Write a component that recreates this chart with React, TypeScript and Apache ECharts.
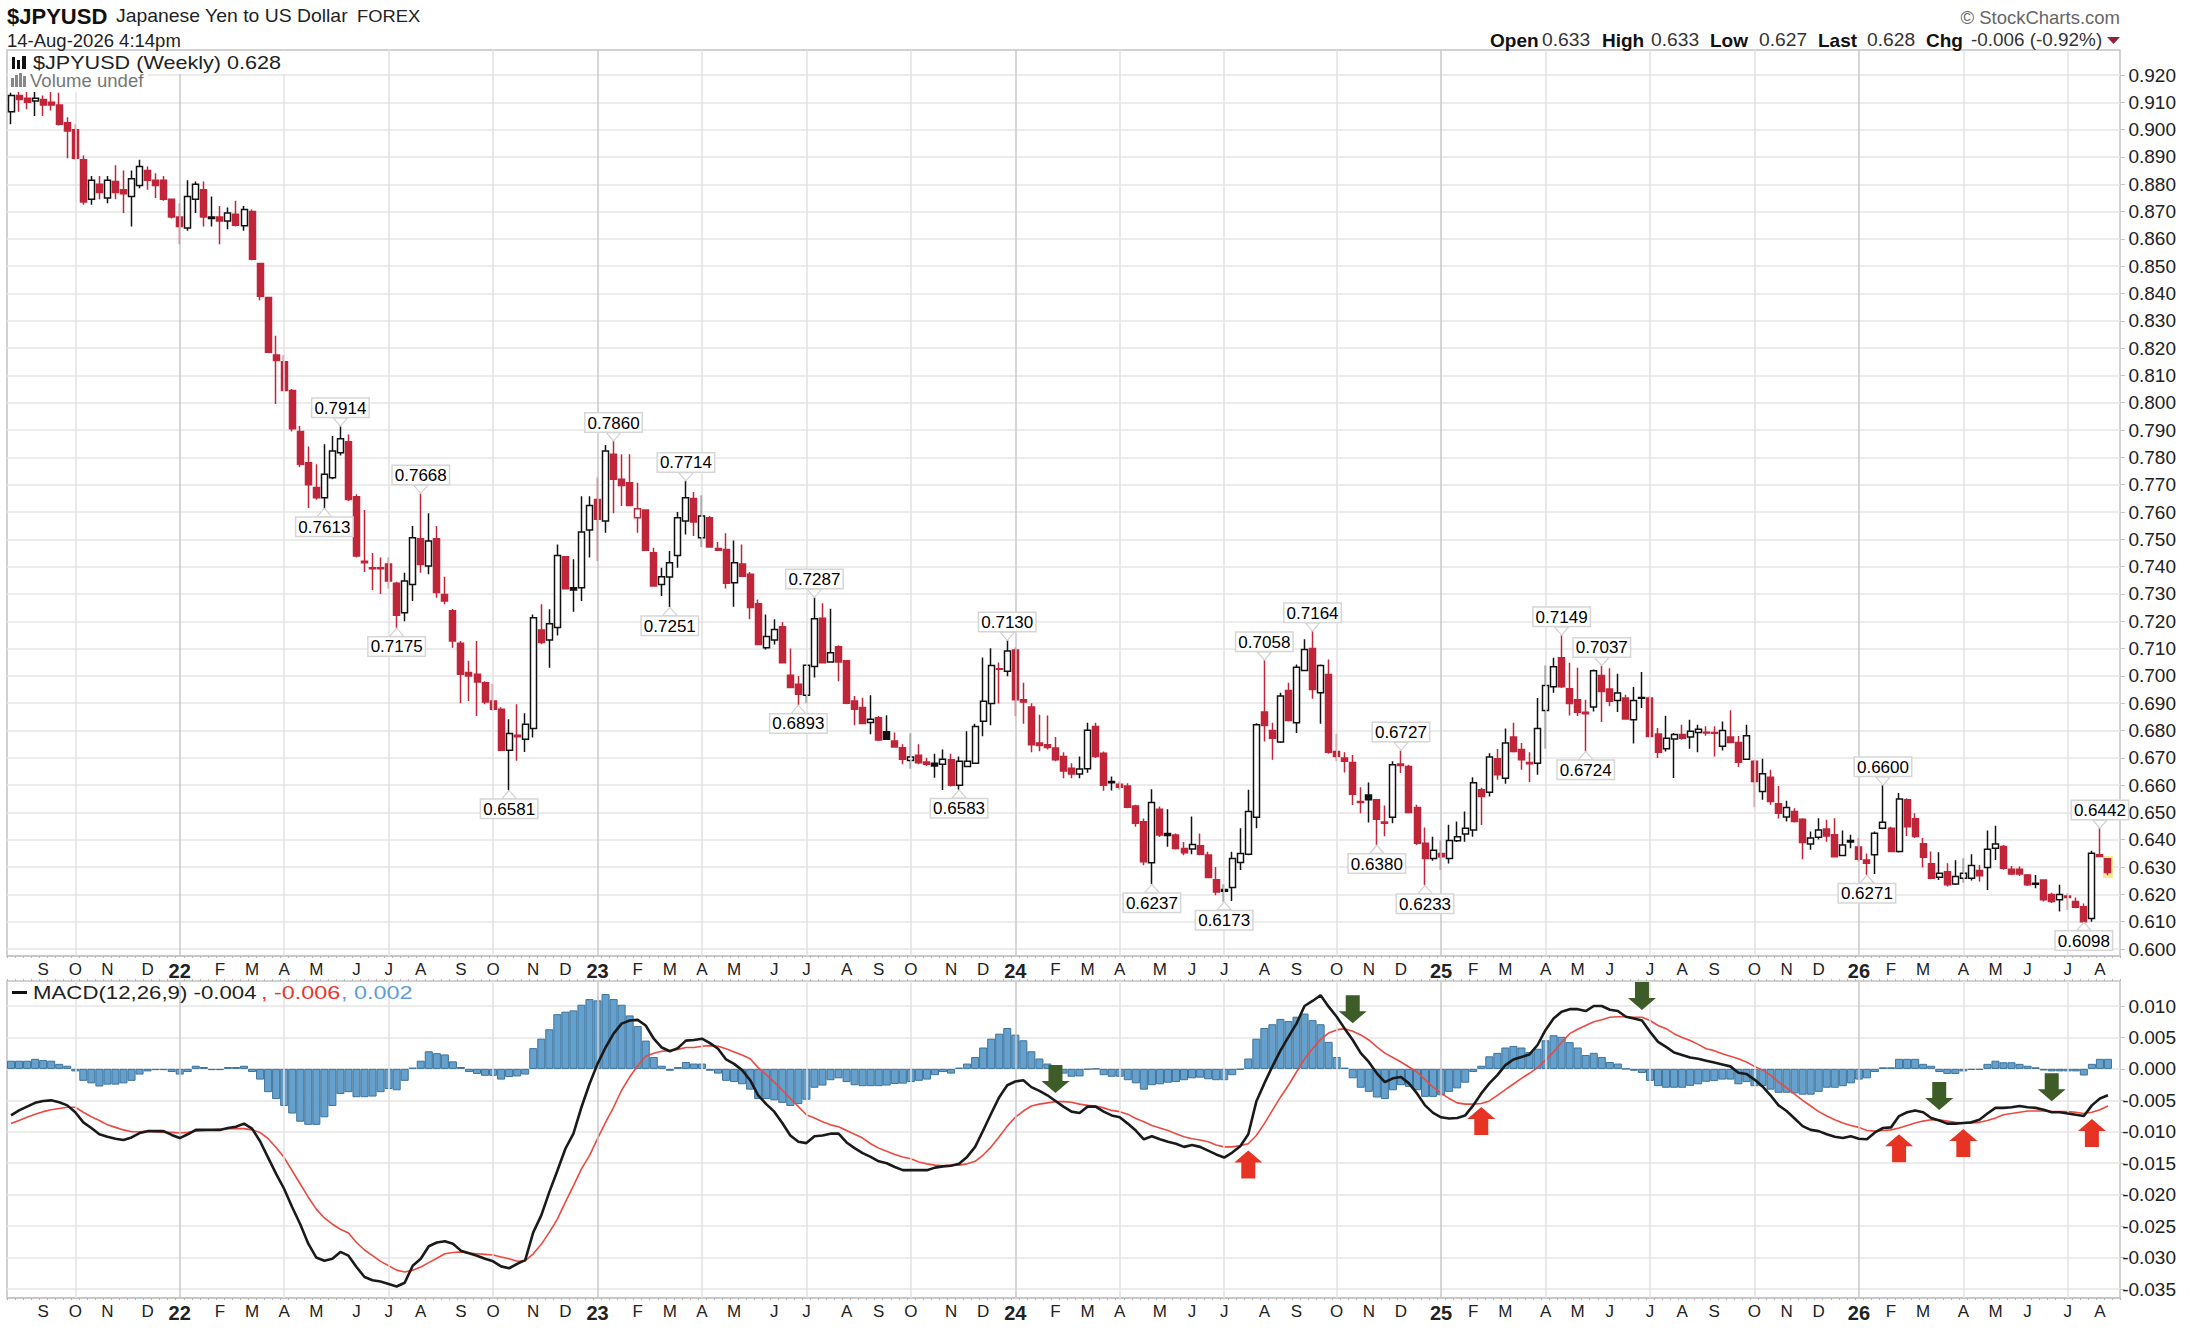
import React, { useEffect, useRef } from "react";
import * as echarts from "echarts";

// Weekly bars: [open, close, low, high]
const weeklyBars: number[][] = [
[.9065,.9125,.902,.9135],[.9125,.911,.9065,.9145],[.9115,.910,.9075,.915],[.9105,.9115,.905,.914],[.911,.909,.905,.9125],
[.910,.909,.907,.914],[.909,.902,.9015,.9135],[.9025,.8995,.8895,.9045],[.900,.8895,.889,.902],[.889,.8735,.8725,.8905],
[.8745,.8815,.8725,.883],[.880,.877,.8745,.883],[.875,.8815,.873,.883],[.881,.877,.8745,.887],[.878,.8765,.8695,.885],
[.8755,.882,.8645,.885],[.8795,.8865,.8785,.889],[.885,.8815,.878,.8865],[.8815,.8795,.875,.884],[.8815,.8745,.874,.883],
[.8745,.868,.8675,.8745],[.868,.8645,.858,.873],[.864,.8755,.863,.8815],[.8745,.880,.8695,.881],[.878,.868,.8645,.881],
[.868,.8675,.8645,.8755],[.868,.8665,.858,.872],[.8665,.8695,.8635,.8715],[.869,.865,.8645,.874],[.8648,.8708,.863,.872],
[.870,.8525,.8522,.8708],[.851,.839,.8375,.851],[.8385,.8185,.8185,.8385],[.8175,.8155,.7995,.8245],[.815,.8045,.8045,.8175],
[.8045,.7905,.7895,.805],[.7895,.7775,.7765,.7915],[.778,.770,.7615,.784],[.769,.7652,.7645,.7775],[.7652,.7738,.7613,.7848],
[.7725,.7823,.772,.7878],[.7817,.7868,.7807,.7914],[.7857,.7646,.764,.7884],[.7656,.7439,.7433,.7665],[.742,.7414,.738,.7607],
[.7396,.7392,.7314,.745],[.7396,.7392,.730,.7433],[.741,.7347,.732,.7433],[.7339,.7222,.7175,.7345],[.7231,.7347,.72,.7378],
[.7335,.7506,.7274,.7549],[.7502,.7408,.7378,.7668],[.7402,.7494,.7372,.7595],[.7502,.7305,.7286,.7549],[.7298,.7274,.7262,.7363],
[.7238,.7128,.7103,.7245],[.7119,.7006,.69,.7128],[.7012,.70,.6908,.7055],[.7006,.6978,.6853,.7128],[.6975,.6904,.6896,.698],
[.6908,.6878,.6872,.697],[.6878,.6728,.6725,.6885],[.6728,.6789,.6581,.6841],[.6783,.6777,.6689,.6896],[.6768,.6823,.6721,.6863],
[.6807,.7213,.6774,.7225],[.7168,.7122,.7116,.7262],[.7131,.7191,.703,.7244],[.7177,.7441,.7148,.7481],[.7436,.7319,.7317,.7438],
[.7323,.7314,.7235,.7427],[.7323,.7527,.7274,.7658],[.7534,.7624,.7433,.7658],[.7646,.7573,.7421,.7726],[.7567,.7823,.7524,.7845],
[.7811,.772,.7595,.786],[.772,.7697,.7622,.7811],[.7707,.7624,.7622,.7811],[.7579,.7612,.7524,.7707],[.7607,.746,.7458,.7609],
[.7451,.7329,.7327,.7469],[.7335,.7363,.7292,.7396],[.7362,.7414,.7251,.7457],[.7441,.7579,.7396,.76],[.7567,.7652,.7518,.7714],
[.7649,.7563,.7512,.7673],[.7506,.7585,.7472,.7661],[.7579,.7472,.747,.7585],[.7466,.746,.7458,.749],[.7463,.7339,.732,.7522],
[.7341,.7414,.7253,.7496],[.741,.7365,.7363,.7481],[.7372,.725,.7207,.738],[.7264,.7115,.7113,.728],[.7103,.7144,.7097,.7225],
[.7131,.717,.7115,.7207],[.718,.7048,.7046,.7197],[.7002,.6957,.6955,.71],[.6969,.6933,.6893,.700],[.6929,.7039,.69,.7043],
[.7034,.7209,.6994,.7287],[.7211,.7048,.7046,.7266],[.7051,.7085,.7049,.7246],[.7107,.7051,.698,.7112],[.7055,.69,.6896,.7058],
[.6908,.6878,.6819,.6926],[.6884,.6826,.6823,.692],[.6829,.6841,.6786,.6929],[.6847,.6765,.6762,.6853],[.6795,.6768,.6765,.6856],
[.6762,.674,.6738,.6793],[.6737,.6695,.6676,.675],[.669,.6703,.666,.679],[.6709,.6682,.6676,.675],[.6685,.6676,.667,.670],
[.668,.667,.6627,.6715],[.6676,.6695,.6582,.673],[.6693,.66,.6595,.6715],[.66,.6687,.6583,.6705],[.6668,.6687,.6666,.6797],
[.668,.6815,.6678,.6825],[.6834,.6907,.6779,.7067],[.6899,.7038,.6819,.7101],[.7026,.7024,.6899,.7049],[.7017,.7091,.6999,.713],
[.7095,.6913,.6852,.7104],[.6913,.6904,.6825,.6975],[.6886,.6748,.672,.690],[.6754,.6745,.6724,.6858],[.6748,.6738,.673,.6855],
[.6736,.6693,.6687,.6776],[.6705,.6652,.6625,.672],[.6662,.6641,.6625,.668],[.6641,.6659,.6625,.6705],[.666,.6801,.6645,.6828],
[.6815,.6705,.6699,.6828],[.6717,.66,.6579,.6723],[.6613,.6609,.658,.6632],[.6603,.6592,.6582,.6613],[.6597,.6519,.6515,.6607],
[.6524,.646,.6448,.6528],[.6466,.6319,.6307,.6478],[.6316,.6536,.6237,.6585],[.6512,.6417,.641,.6522],[.6423,.6416,.6374,.6512],
[.6417,.6368,.6364,.6423],[.6368,.6352,.6343,.6392],[.6366,.6383,.6347,.6485],[.6378,.6347,.6343,.6423],[.6344,.6262,.626,.6356],
[.6254,.6209,.6197,.63],[.6218,.6211,.6173,.6237],[.6225,.6331,.6176,.6356],[.6317,.635,.6289,.6442],[.6347,.6503,.6343,.6583],
[.6482,.6821,.6442,.6827],[.6868,.6818,.676,.7058],[.68,.6772,.6693,.6828],[.6758,.6926,.6754,.6938],[.6946,.6837,.6833,.6975],
[.6828,.7032,.6791,.7042],[.702,.7097,.7017,.7134],[.71,.695,.6916,.7164],[.6938,.7038,.6825,.7042],[.7005,.672,.6715,.706],
[.6723,.6705,.6687,.6788],[.6699,.6687,.6646,.672],[.6683,.6567,.6527,.671],[.654,.6536,.6497,.6592],[.6564,.6546,.6463,.661],
[.6546,.6475,.638,.6549],[.6465,.646,.6413,.6525],[.6482,.6675,.646,.6687],[.6677,.6672,.6644,.6727],[.6668,.65,.6496,.6675],
[.6518,.6387,.6381,.6528],[.6387,.6331,.6233,.6445],[.6331,.6362,.6323,.6411],[.635,.6338,.6289,.6397],[.6331,.6397,.6313,.6455],
[.6396,.6411,.6392,.6467],[.6421,.6442,.6393,.6503],[.6436,.6609,.6411,.6629],[.6583,.6558,.6454,.659],[.6574,.6703,.6558,.6717],
[.6697,.6638,.662,.6732],[.6625,.6754,.6605,.6807],[.6776,.6723,.6719,.6828],[.673,.6693,.6656,.6754],[.6683,.6678,.6611,.672],
[.668,.6807,.6638,.6919],[.6873,.6965,.6733,.7038],[.696,.7033,.6938,.7066],[.7066,.696,.6956,.7149],[.6953,.6899,.6855,.7048],
[.6913,.6867,.6853,.703],[.6867,.6861,.6724,.6913],[.6886,.7019,.687,.7023],[.7001,.6943,.6831,.7037],[.6952,.6907,.6889,.7028],
[.691,.6937,.6868,.7008],[.6919,.6842,.6839,.6931],[.6839,.691,.6752,.6959],[.6921,.6918,.6882,.7014],[.6919,.6778,.6776,.6925],
[.6787,.672,.6699,.6809],[.6733,.6772,.6723,.6854],[.6769,.6785,.6626,.6791],[.6785,.6772,.6766,.6821],[.6776,.6797,.6733,.6839],
[.6793,.6805,.672,.6821],[.6794,.6791,.6781,.6816],[.6793,.679,.6705,.6816],[.6742,.68,.6727,.6833],[.6776,.6756,.6754,.6874],
[.6756,.6684,.6666,.678],[.6695,.6781,.6692,.6821],[.6687,.6613,.6519,.6693],[.6577,.6642,.6546,.6697],[.6629,.654,.6528,.6656],
[.6532,.6497,.6478,.6597],[.6483,.6518,.6467,.6543],[.6503,.6467,.6463,.6515],[.6475,.639,.6329,.6479],[.6384,.6406,.6363,.643],
[.6409,.6436,.6401,.6479],[.6439,.6414,.6393,.6473],[.6418,.6338,.6336,.6479],[.6342,.6381,.634,.6434],[.6397,.6392,.6369,.6418],
[.6373,.6329,.632,.6406],[.6326,.6314,.6271,.635],[.6345,.6424,.6275,.643],[.6442,.6464,.6438,.66],[.6442,.6357,.6355,.6448],
[.6357,.6549,.6353,.6571],[.6546,.6448,.6414,.6552],[.6477,.6412,.6406,.6497],[.6385,.6336,.6298,.6406],[.6312,.6259,.6255,.6357],
[.6263,.6277,.6253,.6354],[.6283,.6235,.6229,.6314],[.6238,.6265,.6234,.6325],[.6259,.6277,.6243,.6332],[.6259,.6306,.6251,.6347],
[.6287,.6268,.6247,.6308],[.6298,.6365,.6216,.6434],[.6369,.6384,.6326,.6451],[.6375,.6296,.629,.6381],[.6292,.6275,.6271,.6304],
[.6292,.6275,.6267,.6302],[.6271,.6235,.6231,.6275],[.6241,.6237,.6222,.6271],[.6253,.618,.6174,.6255],[.62,.6174,.6168,.6206],
[.618,.62,.6137,.6235],[.6194,.6189,.6143,.6204],[.6174,.6153,.6149,.6189],[.6155,.61,.6098,.6167],[.6112,.6351,.61,.636],
[.6345,.6339,.6336,.6442],[.633,.628,.627,.633],
];
const solidBlackWeeks = [25, 70, 109, 115, 137, 144, 151, 169, 203, 229, 252];
const hollowRedWeeks = [78];
const currentBarMarker: number[][] = [[261, 0.63]];

const highCallouts: number[][] = [[41,.7914],[51,.7668],[75,.7860],[84,.7714],[100,.7287],[124,.7130],[156,.7058],[162,.7164],[173,.6727],[193,.7149],[198,.7037],[233,.6600],[260,.6442]];
const lowCallouts: number[][] = [[39,.7613],[48,.7175],[62,.6581],[82,.7251],[98,.6893],[118,.6583],[142,.6237],[151,.6173],[170,.6380],[176,.6233],[196,.6724],[231,.6271],[258,.6098]];

// MACD panel values, in thousandths
const macdMilli = [
-7.4,-6.6,-6.0,-5.4,-5.1,-5.0,-5.3,-5.8,-6.9,-8.5,
-9.4,-10.4,-10.8,-11.1,-11.3,-10.9,-10.2,-9.9,-9.9,-9.9,
-10.5,-11.0,-10.4,-9.7,-9.7,-9.7,-9.7,-9.4,-9.2,-8.7,
-9.5,-11.5,-14.1,-16.7,-19.1,-22.0,-24.7,-27.8,-30.0,-30.5,
-30.2,-29.1,-29.7,-31.5,-33.1,-33.6,-33.8,-34.2,-34.6,-34.0,
-31.3,-30.2,-28.2,-27.6,-27.4,-27.8,-28.9,-29.3,-29.7,-30.2,
-30.6,-31.4,-31.7,-31.0,-30.4,-26.0,-23.3,-19.6,-16.2,-12.7,
-10.3,-6.1,-2.4,0.8,3.4,5.6,7.2,7.7,7.8,6.9,
4.8,3.4,2.8,3.3,4.5,4.6,4.8,4.1,3.2,1.5,
.8,-.2,-1.8,-4.2,-5.6,-6.8,-8.6,-10.6,-11.6,-11.8,
-10.7,-10.6,-10.3,-10.3,-11.7,-12.6,-13.4,-14,-14.7,-15,
-15.6,-16.1,-16.1,-16.1,-16.1,-15.7,-15.5,-15.4,-15.1,-14,
-12.4,-9.8,-7.1,-4.5,-2.6,-2,-1.8,-2.9,-3.5,-4.2,
-5.1,-6,-6.8,-7,-6,-6,-6.8,-7.4,-7.7,-8.7,
-9.8,-11.2,-10.7,-11.2,-11.6,-11.9,-12.4,-12.1,-12.4,-13,
-13.6,-14.1,-13.3,-12.3,-10.4,-5.2,-2.3,.4,2.9,5.1,
7.2,10,10.8,11.7,9.9,8.3,6.4,4.6,2.5,1.1,
-.7,-2.1,-1.5,-1.3,-2.3,-3.9,-5.8,-7,-7.7,-7.9,
-7.8,-7.4,-5.8,-3.9,-2.3,-1,.6,1.5,1.9,2.3,
3.8,6.2,8,9.1,9.5,9.5,9.2,10,10,9.4,
9.2,8.3,8,7.7,5.9,4.3,3.5,2.6,2.2,1.8,
1.6,1.3,1,.7,.4,-.6,-.8,-1.7,-2.8,-4.2,
-5.8,-6.7,-7.9,-9.1,-9.7,-9.9,-10.4,-10.8,-11,-10.7,
-11.1,-11.2,-10.1,-9.4,-9.3,-7.5,-6.9,-6.6,-6.9,-7.8,
-8.2,-8.7,-8.7,-8.6,-8.5,-8.1,-7.1,-6.2,-6.2,-6.1,
-5.9,-6.1,-6.2,-6.5,-6.9,-6.9,-7.1,-7.3,-7.5,-5.8,
-4.7,-4.2,
];
const signalMilli = [
-8.7,-8.2,-7.7,-7.2,-6.8,-6.5,-6.3,-6.1,-6.1,-6.9,
-7.6,-8.2,-8.9,-9.3,-9.7,-10,-10,-9.9,-10,-10.1,
-10.1,-10.2,-10.1,-9.9,-9.8,-9.7,-9.6,-9.5,-9.5,-9.5,
-9.7,-10.1,-11.1,-12.5,-14.1,-16.2,-18.3,-20.4,-22.3,-23.7,
-24.7,-25.5,-26.1,-27.6,-28.8,-29.7,-30.6,-31.3,-32,-32.3,
-32,-31.5,-30.8,-30.1,-29.4,-29.2,-29.1,-29.3,-29.4,-29.5,
-29.6,-29.9,-30.2,-30.6,-30.5,-29.4,-27.9,-26,-23.9,-21.2,
-18.6,-15.9,-13.8,-11.1,-8.5,-6.1,-3.4,-1.3,.5,2,
2.5,2.8,2.9,3.1,3.4,3.4,3.6,3.7,3.6,3.2,
2.7,2.2,1.6,.2,-.9,-2.1,-3.4,-4.7,-6,-7.3,
-7.8,-8.4,-8.9,-9.2,-9.8,-10.4,-11,-11.9,-12.6,-13.1,
-13.6,-14,-14.3,-14.8,-15.1,-15.3,-15.4,-15.3,-15.3,-15.1,
-14.7,-13.7,-12.4,-10.8,-9.1,-7.7,-6.7,-5.9,-5.6,-5.4,
-5.2,-5.2,-5.3,-5.6,-5.8,-5.9,-6.2,-6.6,-6.8,-7.2,
-7.9,-8.4,-9,-9.4,-9.8,-10.3,-10.8,-11.1,-11.3,-11.6,
-12.1,-12.4,-12.4,-12.2,-11.9,-10.6,-8.7,-6.6,-4.5,-2.6,
-.5,1.6,3.2,4.7,5.7,6.2,6.4,6,5.4,4.6,
3.5,2.5,1.8,1.1,.3,-.5,-1.7,-2.9,-3.9,-4.7,
-5.4,-5.6,-5.6,-5.5,-5.1,-4.2,-3.3,-2.4,-1.5,-.7,
.2,1.4,2.7,4.2,5.6,6.3,6.9,7.5,7.8,8.2,
8.3,8.3,8.2,8.2,7.7,6.9,6.4,5.6,5,4.5,
3.9,3.2,2.9,2.4,2,1.6,1.1,.4,-.2,-1,
-2.1,-3,-4,-5,-5.9,-6.8,-7.5,-8.1,-8.6,-9,
-9.3,-9.8,-9.9,-9.8,-9.7,-9.4,-9,-8.6,-8.3,-8.1,
-8.1,-8.3,-8.5,-8.6,-8.6,-8.5,-8.2,-7.8,-7.3,-7.1,
-6.9,-6.7,-6.7,-6.7,-6.8,-6.8,-6.8,-6.9,-7.1,-6.9,
-6.5,-5.9,
];
const histogramMilli = [
1.3,1.3,1.3,1.6,1.4,1.3,.8,.5,-.4,-1.9,
-2.3,-2.8,-2.5,-2.5,-2.3,-1.9,-.9,-.4,-.2,-.2,
-.5,-.9,-.5,.5,.3,-.2,-.2,.3,.3,.5,
-.5,-1.7,-3.7,-4.8,-5.9,-7.1,-8.4,-8.9,-8.9,-7.7,
-5.9,-4,-3.7,-4.5,-4.5,-4.4,-3.7,-3.2,-3.4,-1.9,
.2,1.3,2.8,2.5,2.3,1.2,.3,-.5,-.8,-1.1,
-1.1,-1.7,-1.3,-1.2,-.9,3.3,4.8,6.3,8.7,9.1,
9.3,10.2,11.1,10.9,11.9,11.1,10.2,8.5,6.8,4.5,
1.9,.5,-.3,.3,1.1,.85,.85,-.3,-.75,-1.9,
-2.1,-2.45,-3.3,-4.8,-4.8,-5,-5.4,-5.9,-5.6,-4.9,
-3,-2.65,-1.8,-1.5,-2.1,-2.6,-2.75,-2.75,-2.75,-2.65,
-2.4,-2.35,-2.1,-1.9,-1.7,-1,-.5,-.75,.2,.85,
1.9,3.4,4.8,5.6,6.5,5.45,4.55,2.8,1.65,.85,
.5,-.75,-1.25,-1.2,-.1,0,-1,-1.25,-1.25,-1.8,
-2.3,-3.3,-2.6,-2.45,-2.2,-2.1,-1.8,-1.5,-1.4,-1.65,
-1.8,-1.8,-1,-.1,1.65,4.8,6.5,7.1,7.95,7.6,
8.3,8.8,7.75,7.1,4.3,1.9,.2,-1.5,-3,-3.65,
-4.55,-4.8,-3.4,-2.6,-2.85,-3.4,-4.45,-4.45,-4.2,-3.65,
-3.1,-2.2,-.5,.5,2,2.55,3.4,3.65,3.4,2.7,
3.2,4.55,5.35,5.1,4.25,3.4,2.2,2.55,1.9,1.1,
.85,0,-.3,-.65,-1.9,-2.75,-3,-3,-3,-2.7,
-2.45,-2.05,-1.95,-1.7,-1.7,-2.45,-2.1,-2.75,-2.75,-3.3,
-3.8,-3.8,-3.9,-4.1,-4.1,-3.65,-3,-3,-2.75,-2.3,
-1.7,-1.5,-.5,.25,.25,1.6,1.6,1.6,.8,.5,
-.5,-.8,-.8,-.4,-.15,-.15,.8,1.3,1.05,1.05,
.8,.5,.25,-.25,-.4,-.4,-.4,-.4,-1.05,.8,
1.6,1.6,
];

const sellArrows: number[][] = [[130,-.0016],[167,.0095],[203,.0116],[240,-.0043],[254,-.0029]];
const buyArrows: number[][] = [[154,-.0152],[183,-.0083],[235,-.0126],[243,-.0118],[259,-.0102]];

const priceTicks = { min: 0.6, max: 0.92, step: 0.01 };
const macdTicks = { min: -0.035, max: 0.01, step: 0.005 };
const monthLetters = ["", "F", "M", "A", "M", "J", "J", "A", "S", "O", "N", "D"];
const WEEK_MS = 7 * 86400000;
const firstWeek = Date.UTC(2021, 7, 9);
const extraSlots = 1;

const weeks = Array.from({ length: weeklyBars.length + extraSlots }, (_, i) => new Date(firstWeek + i * WEEK_MS));
const categories = weeks.map((d) => d.toISOString().slice(0, 10));
const isMonthStart = (i: number) => i < weeklyBars.length && weeks[i].getUTCDate() <= 7;
const quarterWeeks = weeks.map((_, i) => i).filter((i) => isMonthStart(i) && weeks[i].getUTCMonth() % 3 === 0);
const labelFor = (i: number) => {
  const m = weeks[i].getUTCMonth();
  return m === 0 ? `{yr|${String(weeks[i].getUTCFullYear()).slice(2)}}` : `{mo|${monthLetters[m]}}`;
};

const FONT = "'Liberation Sans', Arial, sans-serif";
const RED = "#c02539";
const ARROW = "path://M14 0L28 12L21 12L21 28L7 28L7 12L0 12Z";

const frameXAxis = (gridIndex: number) => ({
  type: "category",
  gridIndex,
  data: categories,
  position: "bottom",
  axisLine: { lineStyle: { color: "#c4c4c4", width: 1.5 } },
  axisTick: { show: true, interval: 0, length: 2, lineStyle: { color: "#b5b5b5" } },
  axisLabel: {
    show: true,
    interval: (i: number) => isMonthStart(i),
    margin: 5,
    formatter: (_: string, i: number) => labelFor(i),
    rich: {
      mo: { fontFamily: FONT, fontSize: 17, color: "#222" },
      yr: { fontFamily: FONT, fontSize: 20, fontWeight: "bold", color: "#222" },
    },
  },
  splitLine: { show: false },
});
const hiddenXAxis = (gridIndex: number) => ({ type: "category", gridIndex, data: categories, show: false });
const hiddenYAxis = (gridIndex: number) => ({ type: "value", gridIndex, min: 0, max: 1, show: false, splitLine: { show: false } });
const valueAxis = (gridIndex: number, t: { min: number; max: number; step: number }, digits: number) => ({
  type: "value",
  gridIndex,
  position: "right",
  min: t.min,
  max: t.max,
  interval: t.step,
  axisLine: { show: false },
  axisTick: { show: true, length: 5, lineStyle: { color: "#c4c4c4" } },
  axisLabel: {
    show: true,
    align: "right",
    margin: 56,
    fontFamily: FONT,
    fontSize: 19,
    color: "#222",
    padding: [0, 0, 4, 0],
    formatter: (v: number) => v.toFixed(digits),
  },
  splitLine: { show: true, lineStyle: { color: "#e6e6e6", width: 1.5 } },
});
const gridLines = (xAxisIndex: number, yAxisIndex: number) => ({
  type: "line",
  xAxisIndex,
  yAxisIndex,
  data: [],
  z: 1,
  silent: true,
  markLine: {
    silent: true,
    symbol: ["none", "none"],
    label: { show: false },
    data: quarterWeeks.map((i) => ({
      xAxis: categories[i],
      lineStyle: { type: "solid", width: 1.5, color: weeks[i].getUTCMonth() === 0 ? "#c8c8c8" : "#e2e2e2" },
    })),
  },
});
const calloutSeries = (data: number[][], above: boolean) => ({
  type: "scatter",
  xAxisIndex: 1,
  yAxisIndex: 1,
  z: 6,
  symbol: "triangle",
  symbolRotate: above ? 180 : 0,
  symbolSize: [14, 8],
  symbolOffset: [0, above ? -4 : 4],
  itemStyle: { color: "#fff", borderColor: "#cfcfcf", borderWidth: 1, opacity: 1 },
  label: {
    show: true,
    position: above ? "top" : "bottom",
    distance: 1,
    fontFamily: FONT,
    fontSize: 17,
    color: "#000",
    backgroundColor: "#fff",
    borderColor: "#d6d6d6",
    borderWidth: 1.5,
    padding: [1, 2, 0, 2],
    formatter: (p: any) => p.value[1].toFixed(4),
  },
  data,
});
const txt = (x: number, y: number, text: string, fontSize: number, fill: string, extra: any = {}, scaleX = 1) => ({
  type: "text",
  x,
  y,
  scaleX,
  z: 20,
  silent: true,
  style: { text, fontFamily: FONT, fontSize, fill, textVerticalAlign: "middle", ...extra },
});
const box = (x: number, y: number, width: number, height: number, fill: string) => ({
  type: "rect",
  z: 19,
  silent: true,
  shape: { x, y, width, height },
  style: { fill },
});

export default function App() {
  const ref = useRef<HTMLDivElement>(null);
  useEffect(() => {
    const chart = echarts.init(ref.current!, undefined, { renderer: "svg" });
    const candleData = weeklyBars.map((b, i) => {
      if (solidBlackWeeks.includes(i)) return { value: b, itemStyle: { color0: "#111", borderColor0: "#111" } };
      if (hollowRedWeeks.includes(i)) return { value: b, itemStyle: { color: "#fff", borderColor: RED } };
      return b;
    });
    chart.setOption({
      animation: false,
      backgroundColor: "#fff",
      grid: [
        { left: 7, right: 70, top: 50, height: 906, show: true, borderColor: "#c4c4c4", borderWidth: 1.5, backgroundColor: "#fff" },
        { left: 7, right: 70, top: 75, height: 874 },
        { left: 7, right: 70, top: 981, height: 317, show: true, borderColor: "#c4c4c4", borderWidth: 1.5, backgroundColor: "#fff" },
        { left: 7, right: 70, top: 1006, height: 283 },
      ],
      xAxis: [
        frameXAxis(0),
        hiddenXAxis(1),
        frameXAxis(2),
        hiddenXAxis(3),
        {
          type: "category",
          gridIndex: 2,
          data: categories,
          position: "top",
          axisLine: { show: false },
          axisLabel: { show: false },
          axisTick: { show: true, interval: 0, length: 2, lineStyle: { color: "#b5b5b5" } },
        },
      ],
      yAxis: [
        hiddenYAxis(0),
        valueAxis(1, priceTicks, 3),
        hiddenYAxis(2),
        valueAxis(3, macdTicks, 3),
      ],
      series: [
        gridLines(0, 0),
        gridLines(2, 2),
        {
          type: "scatter",
          xAxisIndex: 1,
          yAxisIndex: 1,
          z: 3,
          symbol: "rect",
          symbolSize: [10, 22],
          itemStyle: { color: "#f6ea8f", opacity: 1 },
          data: currentBarMarker,
        },
        {
          type: "candlestick",
          xAxisIndex: 1,
          yAxisIndex: 1,
          z: 4,
          barWidth: 6.5,
          itemStyle: { color: "#fff", color0: RED, borderColor: "#111", borderColor0: RED, borderWidth: 1.5 },
          data: candleData,
        },
        calloutSeries(highCallouts, true),
        calloutSeries(lowCallouts, false),
        {
          type: "bar",
          xAxisIndex: 3,
          yAxisIndex: 3,
          z: 3,
          clip: false,
          barWidth: "100%",
          itemStyle: { color: "#66a1cd", borderColor: "#3e7299", borderWidth: 1 },
          data: histogramMilli.map((v) => v / 1000),
        },
        {
          type: "line",
          xAxisIndex: 3,
          yAxisIndex: 3,
          z: 4,
          clip: false,
          showSymbol: false,
          lineStyle: { color: "#ea4a40", width: 1.6 },
          data: signalMilli.map((v) => v / 1000),
        },
        {
          type: "line",
          xAxisIndex: 3,
          yAxisIndex: 3,
          z: 5,
          clip: false,
          showSymbol: false,
          lineStyle: { color: "#1a1a1a", width: 2.6 },
          data: macdMilli.map((v) => v / 1000),
        },
        {
          type: "scatter",
          xAxisIndex: 3,
          yAxisIndex: 3,
          z: 7,
          clip: false,
          symbol: ARROW,
          symbolRotate: 180,
          symbolSize: 28,
          itemStyle: { color: "#3d5c28", opacity: 1 },
          data: sellArrows,
        },
        {
          type: "scatter",
          xAxisIndex: 3,
          yAxisIndex: 3,
          z: 7,
          clip: false,
          symbol: ARROW,
          symbolSize: 28,
          itemStyle: { color: "#e63323", opacity: 1 },
          data: buyArrows,
        },
      ],
      graphic: [
        txt(7, 16, "$JPYUSD", 22, "#111", { fontWeight: "bold" }),
        txt(116, 16, "Japanese Yen to US Dollar", 19, "#222", {}, 1.02),
        txt(357, 16, "FOREX", 17, "#222", {}, 1.08),
        txt(7, 40, "14-Aug-2026 4:14pm", 18.5, "#222"),
        txt(2120, 17, "© StockCharts.com", 18.5, "#666", { textAlign: "right" }),
        txt(1490, 40, "Open", 19, "#111", { fontWeight: "bold" }),
        txt(1542, 40, "0.633", 18, "#333", {}, 1.07),
        txt(1602, 40, "High", 19, "#111", { fontWeight: "bold" }),
        txt(1651, 40, "0.633", 18, "#333", {}, 1.07),
        txt(1710, 40, "Low", 19, "#111", { fontWeight: "bold" }),
        txt(1759, 40, "0.627", 18, "#333", {}, 1.07),
        txt(1818, 40, "Last", 19, "#111", { fontWeight: "bold" }),
        txt(1867, 40, "0.628", 18, "#333", {}, 1.07),
        txt(1926, 40, "Chg", 19, "#111", { fontWeight: "bold" }),
        txt(1971, 40, "-0.006 (-0.92%)", 18, "#333", {}, 1.05),
        { type: "polygon", z: 20, silent: true, shape: { points: [[2107, 37], [2120, 37], [2113.5, 44]] }, style: { fill: "#93203f" } },
        box(8, 51, 278, 23, "#fff"),
        box(8, 74, 140, 18, "#fff"),
        box(12, 57, 3, 12, "#111"),
        box(17, 60, 3, 9, "#111"),
        box(22, 56, 4, 13, "#111"),
        txt(33, 63, "$JPYUSD (Weekly) 0.628", 18, "#222", {}, 1.2),
        box(11, 78, 3, 9, "#888"),
        box(15, 75, 3, 12, "#888"),
        box(19, 73, 3, 14, "#888"),
        box(23, 76, 3, 11, "#888"),
        txt(30, 81, "Volume undef", 18, "#777", {}, 1.03),
        box(12, 991, 15, 3, "#111"),
        txt(33, 993, "MACD(12,26,9) -0.004", 18, "#222", {}, 1.235),
        txt(261, 993, ", -0.006", 18, "#e8372e", {}, 1.3),
        txt(341, 993, ", 0.002", 18, "#5a9fd6", {}, 1.3),
      ],
    });
    return () => chart.dispose();
  }, []);
  return <div ref={ref} style={{ position: "absolute", left: 0, top: 0, width: 2190, height: 1338 }} />;
}
